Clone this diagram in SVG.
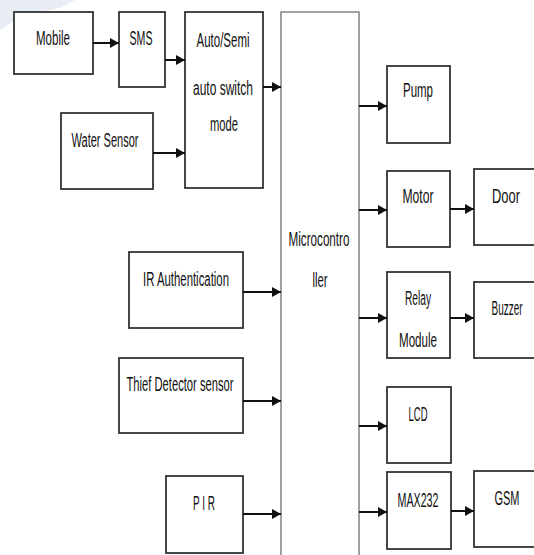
<svg xmlns="http://www.w3.org/2000/svg" width="534" height="555" viewBox="0 0 534 555">
<style>
.box{fill:#fff;stroke:#333;stroke-width:1.8}
.mc{fill:#fff;stroke:#8a8a8a;stroke-width:1.6}
.t{font-family:"Liberation Sans Narrow","Liberation Sans",Arial,sans-serif;font-size:20px;fill:#111;text-anchor:middle}
.c{stroke:#111;stroke-width:2;fill:none}
</style>
<defs>
<marker id="ah" markerUnits="userSpaceOnUse" markerWidth="9" markerHeight="10" refX="9" refY="5" orient="auto">
<path d="M0,0 L9,5 L0,10 z" fill="#111"/>
</marker>
</defs>
<rect width="534" height="555" fill="#fff"/>
<polygon points="0,0 75,0 60,8 30,14 12,22 0,30" fill="#e8edf3"/>
<g id="mobile"><rect class="box" x="14" y="12" width="79" height="62"/><text class="t" x="53" y="45" textLength="34" lengthAdjust="spacingAndGlyphs">Mobile</text></g>
<g id="sms"><rect class="box" x="119" y="12" width="46" height="75"/><text class="t" x="141" y="45" textLength="23" lengthAdjust="spacingAndGlyphs">SMS</text></g>
<g id="auto"><rect class="box" x="185" y="12" width="78" height="176"/>
<text class="t" x="223" y="47" textLength="53" lengthAdjust="spacingAndGlyphs">Auto/Semi</text>
<text class="t" x="223" y="95" textLength="60" lengthAdjust="spacingAndGlyphs">auto switch</text>
<text class="t" x="224" y="131" textLength="28" lengthAdjust="spacingAndGlyphs">mode</text></g>
<g id="water"><rect class="box" x="61" y="113" width="92" height="76"/><text class="t" x="105" y="147" textLength="67" lengthAdjust="spacingAndGlyphs">Water Sensor</text></g>
<g id="micro"><rect class="mc" x="281" y="12" width="78" height="560"/>
<text class="t" x="319" y="246" textLength="61" lengthAdjust="spacingAndGlyphs">Microcontro</text>
<text class="t" x="320" y="287" textLength="15" lengthAdjust="spacingAndGlyphs">ller</text></g>
<g id="pump"><rect class="box" x="387" y="66" width="63" height="77"/><text class="t" x="418" y="97" textLength="30" lengthAdjust="spacingAndGlyphs">Pump</text></g>
<g id="motor"><rect class="box" x="387" y="171" width="63" height="76"/><text class="t" x="418" y="203" textLength="31" lengthAdjust="spacingAndGlyphs">Motor</text></g>
<g id="door"><rect class="box" x="474" y="169" width="62" height="76"/><text class="t" x="506" y="203" textLength="28" lengthAdjust="spacingAndGlyphs">Door</text></g>
<g id="ir"><rect class="box" x="129" y="252" width="114" height="76"/><text class="t" x="186" y="286" textLength="86" lengthAdjust="spacingAndGlyphs">IR Authentication</text></g>
<g id="relay"><rect class="box" x="387" y="272" width="63" height="86"/>
<text class="t" x="418" y="305" textLength="26" lengthAdjust="spacingAndGlyphs">Relay</text>
<text class="t" x="418" y="347" textLength="38" lengthAdjust="spacingAndGlyphs">Module</text></g>
<g id="buzzer"><rect class="box" x="474" y="282" width="62" height="76"/><text class="t" x="507" y="315" textLength="31" lengthAdjust="spacingAndGlyphs">Buzzer</text></g>
<g id="thief"><rect class="box" x="119" y="358" width="124" height="75"/><text class="t" x="180" y="391" textLength="107" lengthAdjust="spacingAndGlyphs">Thief Detector sensor</text></g>
<g id="lcd"><rect class="box" x="387" y="387" width="64" height="76"/><text class="t" x="418" y="421" textLength="19" lengthAdjust="spacingAndGlyphs">LCD</text></g>
<g id="max232"><rect class="box" x="387" y="472" width="64" height="77"/><text class="t" x="418" y="507" textLength="41" lengthAdjust="spacingAndGlyphs">MAX232</text></g>
<g id="pir"><rect class="box" x="166" y="476" width="77" height="77"/><text class="t" x="204" y="510" textLength="22" lengthAdjust="spacingAndGlyphs">P I R</text></g>
<g id="gsm"><rect class="box" x="474" y="471" width="62" height="76"/><text class="t" x="507" y="505" textLength="25" lengthAdjust="spacingAndGlyphs">GSM</text></g>
<g id="connectors">
<line class="c" x1="93" y1="43" x2="119" y2="43" marker-end="url(#ah)"/>
<line class="c" x1="165" y1="60" x2="185" y2="60" marker-end="url(#ah)"/>
<line class="c" x1="153" y1="153" x2="185" y2="153" marker-end="url(#ah)"/>
<line class="c" x1="263" y1="87" x2="281" y2="87" marker-end="url(#ah)"/>
<line class="c" x1="359" y1="106" x2="387" y2="106" marker-end="url(#ah)"/>
<line class="c" x1="359" y1="210" x2="387" y2="210" marker-end="url(#ah)"/>
<line class="c" x1="450" y1="209" x2="474" y2="209" marker-end="url(#ah)"/>
<line class="c" x1="243" y1="292" x2="281" y2="292" marker-end="url(#ah)"/>
<line class="c" x1="359" y1="318" x2="387" y2="318" marker-end="url(#ah)"/>
<line class="c" x1="450" y1="318" x2="474" y2="318" marker-end="url(#ah)"/>
<line class="c" x1="243" y1="401" x2="281" y2="401" marker-end="url(#ah)"/>
<line class="c" x1="359" y1="426" x2="387" y2="426" marker-end="url(#ah)"/>
<line class="c" x1="243" y1="514" x2="281" y2="514" marker-end="url(#ah)"/>
<line class="c" x1="359" y1="512" x2="387" y2="512" marker-end="url(#ah)"/>
<line class="c" x1="451" y1="511" x2="474" y2="511" marker-end="url(#ah)"/>
</g>
</svg>
